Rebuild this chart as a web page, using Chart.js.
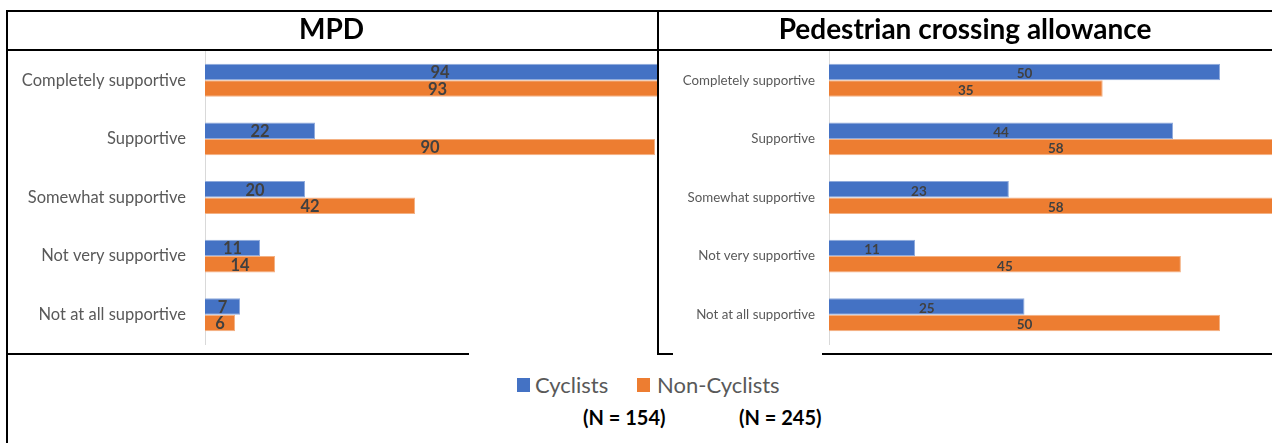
<!DOCTYPE html>
<html><head><meta charset="utf-8">
<script src="https://cdn.jsdelivr.net/npm/chart.js@4.4.0/dist/chart.umd.min.js"></script>
<style>
html,body{margin:0;padding:0;background:#fff;}
body{width:1272px;height:443px;position:relative;overflow:hidden;font-family:Lato,"Open Sans",sans-serif;}
.ln{position:absolute;background:#000;}
canvas{position:absolute;}
.leg{position:absolute;font-size:22px;color:#595959;line-height:22px;white-space:nowrap;}
.sq{position:absolute;width:13px;height:14px;}
.nn{position:absolute;font-size:20px;font-weight:bold;color:#000;white-space:nowrap;line-height:20px;}
</style></head><body>
<canvas id="c1" width="652" height="345" style="left:6px;top:10px"></canvas>
<canvas id="c2" width="614" height="345" style="left:658px;top:10px"></canvas>

<div class="ln" style="left:6px;top:10px;width:1266px;height:2px"></div>
<div class="ln" style="left:6px;top:10px;width:2px;height:433px"></div>
<div class="ln" style="left:6px;top:49px;width:1266px;height:2px"></div>
<div class="ln" style="left:657px;top:10px;width:2px;height:344px"></div>
<div class="ln" style="left:6px;top:353px;width:463px;height:2px"></div>
<div class="ln" style="left:657px;top:353px;width:16px;height:2px"></div>
<div class="ln" style="left:822px;top:353px;width:450px;height:2px"></div>

<div id="legend"></div>

<script>
const categories = ['Completely supportive','Supportive','Somewhat supportive','Not very supportive','Not at all supportive'];
const seriesNames = ['Cyclists','Non-Cyclists'];
const seriesColors = ['#4472C4','#ED7D31'];
const seriesEdges = ['#8FAADC','#F4B183'];
const panelTitles = ['MPD','Pedestrian crossing allowance'];
const mpdCyclists = [94,22,20,11,7];
const mpdNonCyclists = [93,90,42,14,6];
const pedCyclists = [50,44,23,11,25];
const pedNonCyclists = [35,58,58,45,50];
const sampleSizes = ['(N = 154)','(N = 245)'];

const valueLabels = {
  id:'valueLabels',
  afterDatasetsDraw(chart, args, opts){
    const ctx = chart.ctx; const xs = chart.scales.x;
    ctx.save();
    ctx.font = opts.font; ctx.fillStyle = opts.color;
    ctx.textAlign = 'center'; ctx.textBaseline = 'middle';
    chart.data.datasets.forEach((ds,i)=>{
      const meta = chart.getDatasetMeta(i);
      meta.data.forEach((bar,j)=>{
        const v = ds.data[j];
        ctx.fillText(String(v), xs.getPixelForValue(v/2), bar.y + opts.dy);
      });
    });
    ctx.restore();
  }
};

function makeChart(id, title, cyc, non, xMax, axisLeft, padRight, labelSize, valueSize, tickPad, dy){
  return new Chart(document.getElementById(id), {
    type:'bar',
    data:{
      labels: categories,
      datasets:[
        {label:seriesNames[0], data:cyc, backgroundColor:seriesColors[0], borderColor:seriesEdges[0], borderWidth:1, clip:0},
        {label:seriesNames[1], data:non, backgroundColor:seriesColors[1], borderColor:seriesEdges[1], borderWidth:1, clip:0}
      ]
    },
    plugins:[valueLabels],
    options:{
      indexAxis:'y',
      responsive:false,
      animation:false,
      events:[],
      categoryPercentage:0.562,
      barPercentage:1,
      layout:{padding:{left:0,right:padRight,top:0,bottom:11}},
      plugins:{
        legend:{display:false},
        tooltip:{enabled:false},
        title:{display:true,text:title,color:'#000',
          font:{family:'Lato',size:28,weight:'bold'},padding:{top:3.2,bottom:4.2}},
        valueLabels:{font:'bold '+valueSize+'px Lato',color:'#404040',dy:dy}
      },
      scales:{
        x:{display:false,min:0,max:xMax},
        y:{
          grid:{display:false,drawTicks:false},
          border:{display:true,color:'#d9d9d9',width:1},
          ticks:{color:'#595959',padding:tickPad,font:{family:'Lato',size:labelSize}},
          afterFit:(s)=>{ s.width = axisLeft; s.paddingTop = 0; s.paddingBottom = 0; }
        }
      }
    }
  });
}

makeChart('c1', panelTitles[0], mpdCyclists, mpdNonCyclists, 90.4, 199, 1, 16.5, 16.5, 19, 1);
makeChart('c2', panelTitles[1], pedCyclists, pedNonCyclists, 56.65, 171, 0, 13.3, 13.5, 14, 2);

const leg = document.getElementById('legend');
leg.innerHTML =
  '<div class="sq" style="left:517px;top:378px;background:'+seriesColors[0]+'"></div>'+
  '<div class="leg" style="left:535px;top:374px">'+seriesNames[0]+'</div>'+
  '<div class="sq" style="left:637px;top:378px;background:'+seriesColors[1]+'"></div>'+
  '<div class="leg" style="left:657px;top:374px">'+seriesNames[1]+'</div>'+
  '<div class="nn" style="left:583px;top:407px">'+sampleSizes[0]+'</div>'+
  '<div class="nn" style="left:739px;top:407px">'+sampleSizes[1]+'</div>';
</script>
</body></html>
